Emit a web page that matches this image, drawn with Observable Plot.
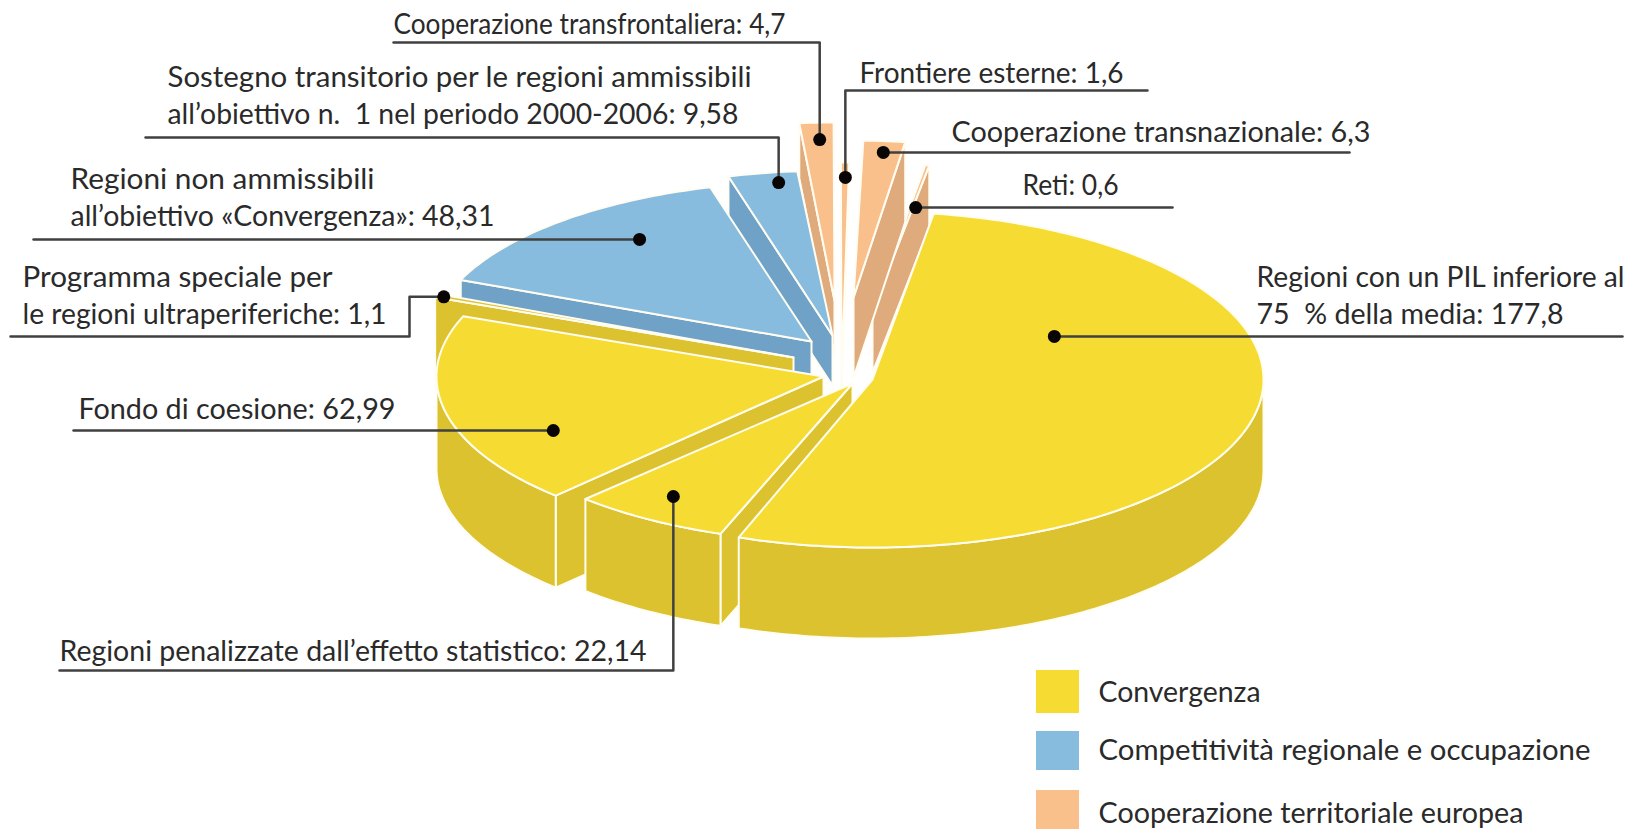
<!DOCTYPE html>
<html lang="it">
<head>
<meta charset="utf-8">
<title>Fondi strutturali</title>
<script src="https://cdn.jsdelivr.net/npm/d3@7"></script>
<script src="https://cdn.jsdelivr.net/npm/@observablehq/plot@0.6"></script>
<style>
html,body{margin:0;padding:0;background:#fff;overflow:hidden}
svg{display:block}
</style>
</head>
<body>
<div id="chart"></div>
<script>
// ---- data, in clockwise order round the pie
const categories = ["Regioni con un PIL inferiore al\n75\u00a0 % della media", "Regioni penalizzate dall’effetto statistico", "Fondo di coesione", "Programma speciale per\nle regioni ultraperiferiche", "Regioni non ammissibili\nall’obiettivo «Convergenza»", "Sostegno transitorio per le regioni ammissibili\nall’obiettivo n.\u00a0 1 nel periodo 2000-2006", "Cooperazione transfrontaliera", "Frontiere esterne", "Cooperazione transnazionale", "Reti"];
const values = [177.8, 22.14, 62.99, 1.1, 48.31, 9.58, 4.7, 1.6, 6.3, 0.6];
const groups = ["Convergenza", "Convergenza", "Convergenza", "Convergenza", "Competitività regionale e occupazione", "Competitività regionale e occupazione", "Cooperazione territoriale europea", "Cooperazione territoriale europea", "Cooperazione territoriale europea", "Cooperazione territoriale europea"];
const legendGroups = ["Convergenza", "Competitività regionale e occupazione", "Cooperazione territoriale europea"];

// ---- layout
const rotation = 9 * Math.PI / 180;
const topColors = ["#f6dc32", "#88bcdf", "#f9c08c"];
const wallColors = ["#dcc22e", "#6fa2c6", "#dfaa7c"];
// exploded position of each slice: apex, radii, wall depth
const explode = [
  {cx: 872, cy: 379, rx: 391, ry: 168, d: 91},
  {cx: 852, cy: 383, rx: 386, ry: 160, d: 92},
  {cx: 823, cy: 376, rx: 387, ry: 165, d: 92},
  {cx: 793, cy: 357, rx: 385, ry: 165, d: 92, darkTop: true},
  {cx: 811, cy: 341, rx: 380, ry: 160, d: 92},
  {cx: 832, cy: 335, rx: 390, ry: 165, d: 50},
  {cx: 834, cy: 300, rx: 390, ry: 178, d: 55},
  {cx: 841, cy: 375, rx: 280, ry: 213, d: 20},
  {cx: 853, cy: 297, rx: 356, ry: 157, d: 80},
  {cx: 872, cy: 310, rx: 363, ry: 147, d: 62}
];
// where the black dot sits inside each slice: share of the angle, share of the radius
const dotPlace = [[.273, .531], [.56, .845], [.312, .771], [.5, .98], [.617, .782], [.68, .937], [.55, .905], [.57, .93], [.53, .928], [2, .71]];
// leader after the dot
const leaderPath = [
  [[1622, null]],
  [[null, 670], [59, 670]],
  [[73, null]],
  [[409, null], [409, 336], [10, 336]],
  [[33, null]],
  [[null, 137], [145, 137]],
  [[null, 42], [393, 42]],
  [[null, 90], [1147, 90]],
  [[1349, null]],
  [[1172, null]]
];
// label: left edge, first baseline, width of each line
const labelPlace = [[1256, 286], [59, 660], [78, 418], [22, 286], [70, 188], [167, 86], [393, 33], [859, 82], [951, 141], [1022, 194]];
const labelWidths = [[368, 307], [587], [317], [310, 364], [304, 424], [584, 571], [392], [264], [419], [96]];
const lineGap = 37;
const legendRows = [[670, 713, 701], [731, 770, 759], [790, 840, 822]];
const legendX = [1036, 1079, 1098];
const legendWidths = [162, 492, 425];

// ---- build the outlines from the values
const arcs = d3.pie().sort(null).startAngle(rotation).endAngle(rotation + 2 * Math.PI)(values);
const colorOf = (i, wall) => (wall ? wallColors : topColors)[legendGroups.indexOf(groups[i])];
const pt = (e, a, f = 1) => [e.cx + e.rx * f * Math.sin(a), e.cy - e.ry * f * Math.cos(a)];
const sweep = (a0, a1) => {
  const n = Math.max(2, Math.ceil(Math.abs(a1 - a0) / (Math.PI / 180)));
  return d3.range(n + 1).map((k) => a0 + (a1 - a0) * k / n);
};
const polys = [];
let pid = 0;
const addPoly = (points, color) => {
  const id = pid++;
  points.forEach(([x, y]) => polys.push({x, y, id, color}));
};
// painter's order: from the back of the pie to the front
[9, 8, 7, 6, 5, 4, 3, 2, 1, 0].forEach((i) => {
  const e = explode[i], {startAngle: a0, endAngle: a1} = arcs[i];
  const apex = [e.cx, e.cy], wall = colorOf(i, true);
  const drop = ([x, y]) => [x, y + e.d];
  if (Math.sin(a0) < 0) { const c = pt(e, a0); addPoly([apex, c, drop(c), drop(apex), apex], wall); }
  if (Math.sin(a1) > 0) { const c = pt(e, a1); addPoly([apex, c, drop(c), drop(apex), apex], wall); }
  // outer wall: only the part of the rim facing the viewer
  const lo = Math.max(a0, Math.PI / 2), hi = Math.min(a1, 3 * Math.PI / 2);
  if (hi > lo) {
    const rim = sweep(lo, hi).map((a) => pt(e, a));
    addPoly([...rim, ...rim.slice().reverse().map(drop), rim[0]], wall);
  }
  addPoly([apex, ...sweep(a0, a1).map((a) => pt(e, a)), apex], colorOf(i, e.darkTop));
});

const dots = arcs.map((arc, i) => {
  const [t, f] = dotPlace[i];
  const [x, y] = pt(explode[i], arc.startAngle + (arc.endAngle - arc.startAngle) * t, f);
  return {x, y};
});
const leaders = dots.flatMap((dot, i) => {
  const out = [{x: dot.x, y: dot.y, i}];
  leaderPath[i].forEach(([x, y]) => out.push({x: x ?? dot.x, y: y ?? dot.y, i}));
  return out;
});
const fmt = (v) => String(v).replace(".", ",");
const labelLines = categories.flatMap((c, i) => {
  const lines = `${c}: ${fmt(values[i])}`.split("\n");
  return lines.map((text, k) => ({text, x: labelPlace[i][0], y: labelPlace[i][1] + k * lineGap, w: labelWidths[i][k]}));
});
const legend = legendGroups.map((g, i) => ({g, color: topColors[i], y1: legendRows[i][0], y2: legendRows[i][1], base: legendRows[i][2], w: legendWidths[i]}));

const font = "Lato, 'Noto Sans', sans-serif";
const chart = Plot.plot({
  width: 1630, height: 829, margin: 0,
  style: {background: "#fff"},
  x: {domain: [0, 1630], range: [0, 1630], axis: null},
  y: {domain: [0, 829], range: [0, 829], axis: null},
  color: {type: "identity"},
  marks: [
    Plot.line(polys, {x: "x", y: "y", z: "id", fill: "color", stroke: "#fffdf2", strokeWidth: 2, strokeLinejoin: "round", curve: "linear"}),
    Plot.line(leaders, {x: "x", y: "y", z: "i", stroke: "#404040", strokeWidth: 2.5, curve: "linear"}),
    Plot.dot(dots, {x: "x", y: "y", r: 6.5, fill: "#0a0505"}),
    Plot.text(labelLines, {x: "x", y: "y", text: "text", textAnchor: "start", lineAnchor: "bottom", fontSize: 28, fontFamily: font, fill: "#2a2a2a"}),
    Plot.rect(legend, {x1: () => legendX[0], x2: () => legendX[1], y1: "y1", y2: "y2", fill: "color"}),
    Plot.text(legend, {x: () => legendX[2], y: "base", text: "g", textAnchor: "start", lineAnchor: "bottom", fontSize: 28, fontFamily: font, fill: "#2a2a2a"})
  ]
});
// the source's type runs slightly wider or narrower line by line: fit each line to its measured width
const widthSets = [labelLines, legend];
d3.select(chart).selectAll('g[aria-label="text"]').each(function (_, s) {
  d3.select(this).selectAll("text")
    .attr("textLength", (_, k) => widthSets[s][k].w)
    .attr("lengthAdjust", "spacingAndGlyphs");
});
document.getElementById("chart").append(chart);
</script>
</body>
</html>
